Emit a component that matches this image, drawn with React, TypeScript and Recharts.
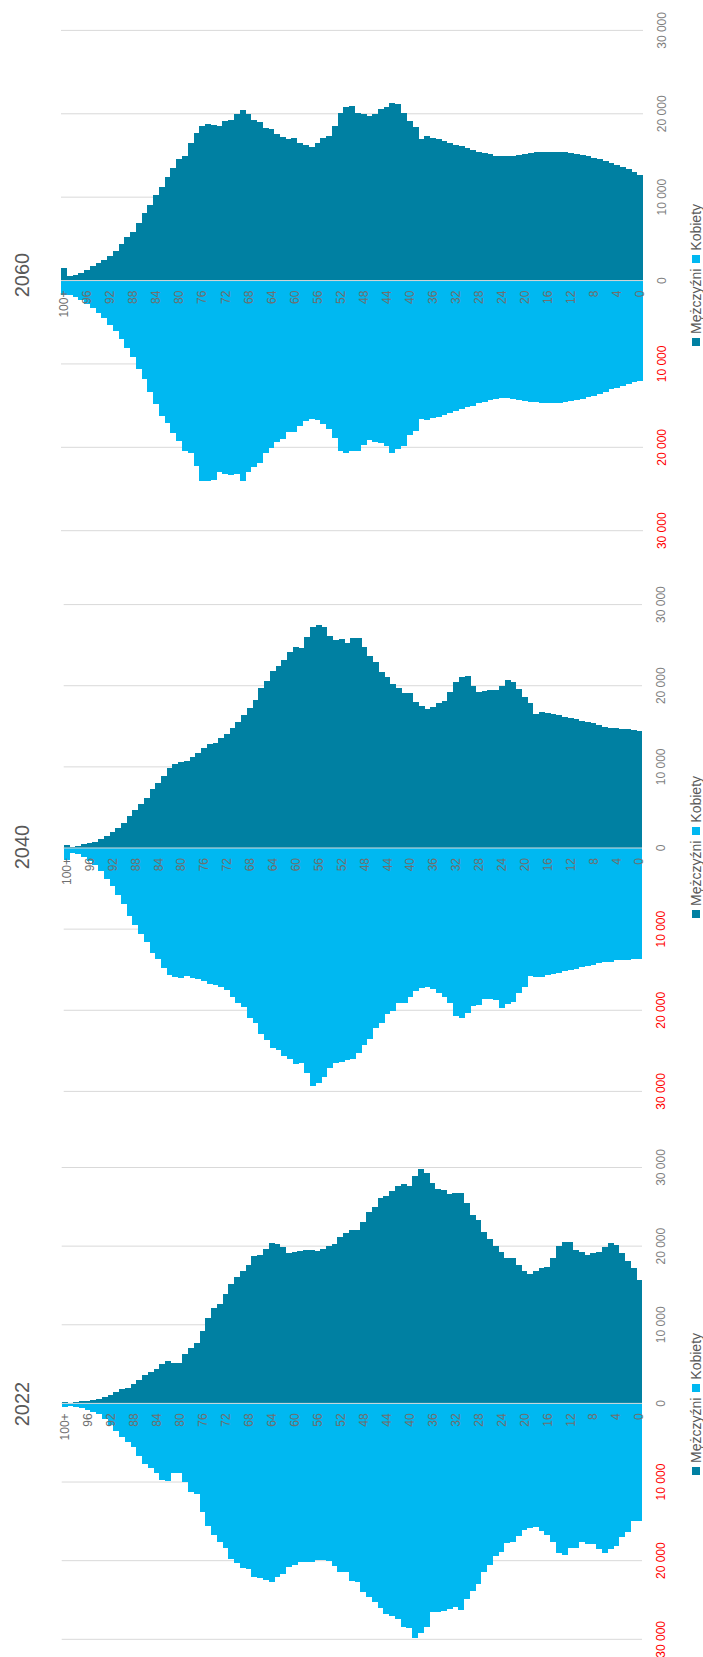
import React from 'react';
import { BarChart, Bar, XAxis, YAxis, CartesianGrid, ReferenceLine, LabelList } from 'recharts';

// Age categories, oldest first (100+ … 0)
const ages: string[] = ['100+', ...Array.from({ length: 100 }, (_, k) => String(99 - k))];

const valueTicks = [-30000, -20000, -10000, 0, 10000, 20000, 30000];

const men2060 = [1500, 600, 700, 900, 1300, 1700, 2050, 2480, 3000, 3600, 4330, 5180, 5870, 6900, 8050, 9120, 10280, 11260, 12420, 13530, 14520, 14950, 16490, 17730, 18500, 18720, 18630, 18590, 19150, 19230, 20000, 20430, 19920, 19230, 19020, 18330, 18120, 17600, 17220, 16920, 17130, 16490, 16280, 15980, 16490, 17050, 17350, 18550, 20090, 20770, 20990, 20130, 20000, 19700, 20000, 20560, 20770, 21330, 21120, 20130, 19150, 18420, 17000, 17300, 17130, 16960, 16750, 16530, 16280, 16100, 15930, 15680, 15460, 15290, 15120, 14990, 14910, 14910, 14950, 15080, 15160, 15290, 15380, 15420, 15460, 15460, 15460, 15420, 15330, 15210, 15080, 14910, 14730, 14520, 14310, 14050, 13830, 13580, 13320, 13020, 12630];
const women2060 = [1760, 1700, 2000, 2380, 2850, 3280, 3900, 4550, 5300, 6000, 6980, 8140, 9210, 10580, 11860, 13410, 14780, 16190, 17130, 18290, 19270, 20430, 20690, 22270, 23990, 23990, 23860, 23000, 23260, 23340, 23260, 23990, 23000, 22360, 21840, 20690, 20130, 19400, 18970, 18200, 18200, 17480, 16830, 16580, 16700, 17260, 17770, 18850, 20430, 20690, 20400, 20430, 19700, 19150, 19320, 19490, 19830, 20690, 20260, 19830, 18550, 17990, 16580, 16700, 16490, 16400, 16150, 15890, 15630, 15420, 15210, 14990, 14730, 14560, 14350, 14220, 14130, 14130, 14220, 14350, 14430, 14520, 14610, 14650, 14690, 14690, 14650, 14560, 14480, 14350, 14220, 14000, 13830, 13620, 13360, 13060, 12850, 12630, 12420, 12210, 11990];

const men2040 = [350, 130, 220, 440, 570, 750, 1060, 1500, 1980, 2460, 3080, 3920, 4660, 5410, 6200, 7260, 7960, 8890, 9860, 10380, 10600, 10740, 11260, 11700, 12320, 12760, 12980, 13550, 14080, 14740, 15530, 16410, 17250, 18260, 19710, 20550, 21780, 22400, 23230, 24200, 24820, 24640, 26050, 27240, 27500, 27280, 26090, 25650, 25740, 25300, 25830, 25830, 24770, 23630, 22970, 21740, 21030, 20240, 19670, 19050, 19050, 18040, 17470, 17160, 17380, 17820, 18130, 19230, 20460, 21120, 21210, 20020, 19230, 19360, 19490, 19490, 20020, 20680, 20460, 19580, 18610, 17820, 16500, 16720, 16630, 16500, 16370, 16190, 16060, 15880, 15710, 15530, 15400, 15180, 14960, 14830, 14740, 14650, 14610, 14520, 14480];
const women2040 = [1450, 570, 750, 1100, 1630, 2070, 2860, 3870, 4710, 5850, 6910, 8360, 9460, 10560, 11570, 12980, 13730, 14830, 15710, 15880, 15970, 15800, 15970, 16150, 16410, 16760, 16940, 17120, 17560, 18350, 19140, 19580, 20900, 21520, 22970, 23630, 24640, 24860, 25650, 25960, 26620, 26530, 27720, 29390, 28910, 28250, 27060, 26440, 26400, 26180, 26000, 25210, 24330, 23540, 22220, 21560, 20460, 20110, 19140, 19050, 18350, 17600, 17250, 17160, 17380, 17820, 18350, 19140, 20680, 20900, 20370, 19490, 19360, 18610, 18610, 18790, 19670, 19230, 19010, 17820, 17160, 15750, 15880, 15840, 15710, 15530, 15360, 15220, 15090, 14870, 14700, 14560, 14390, 14210, 14080, 14040, 13860, 13820, 13770, 13730, 13730];

const men2022 = [150, 100, 150, 250, 350, 450, 600, 800, 1130, 1450, 1810, 1940, 2490, 3030, 3620, 3930, 4380, 4970, 5330, 5200, 5200, 6330, 7000, 7680, 9170, 10850, 12070, 12610, 13870, 15230, 16040, 16860, 17620, 18710, 18890, 19660, 20340, 20250, 19880, 19120, 19300, 19390, 19480, 19570, 19430, 19660, 19970, 20290, 21100, 21690, 22010, 22010, 23050, 24400, 24990, 26080, 26350, 26980, 27660, 27930, 27610, 28920, 29830, 29240, 27970, 27250, 27200, 26620, 26750, 26750, 25530, 23950, 23270, 21740, 20880, 20020, 19210, 18530, 18440, 17580, 16860, 16490, 16860, 17260, 17400, 18480, 19970, 20470, 20560, 19520, 19300, 18890, 19120, 19300, 19840, 20380, 20110, 19120, 18170, 17260, 15680];
const women2022 = [450, 350, 450, 600, 800, 1040, 1360, 2030, 2710, 3480, 4290, 4880, 5560, 6640, 7680, 8230, 8810, 9720, 9810, 8900, 8810, 10030, 11300, 11520, 13870, 15590, 16770, 17620, 18440, 19790, 20340, 20920, 21100, 22140, 22230, 22460, 22730, 22140, 21690, 20790, 20560, 20110, 20200, 20110, 19930, 19970, 20020, 20650, 21380, 21470, 22600, 22730, 23950, 24630, 25310, 26080, 26800, 26980, 27430, 28380, 28610, 29830, 29240, 28470, 26570, 26570, 26350, 26120, 25890, 26300, 24860, 23860, 22960, 21470, 20560, 19430, 18890, 17760, 17620, 16860, 16130, 15820, 15730, 16180, 16720, 17620, 19070, 19300, 18390, 18390, 17670, 17850, 17940, 18530, 19070, 18570, 18080, 16950, 16310, 14910, 14910];

const MEN = '#0080A2';
const WOMEN = '#00B8F1';
const FONT = "'Liberation Sans', Arial, sans-serif";
const H = 703;

type Panel = {
  year: string;
  men: number[];
  women: number[];
  offY: number;
  W: number;
  left: number;
  right: number;
  top: number;
  xh: number;
};

const panels: Panel[] = [
  { year: '2060', men: men2060, women: women2060, offY: 0, W: 550, left: 19.3, right: 30.4, top: 61, xh: 60 },
  { year: '2040', men: men2040, women: women2040, offY: 572, W: 550, left: 30.6, right: 32.6, top: 63.7, xh: 61 },
  { year: '2022', men: men2022, women: women2022, offY: 1139, W: 530, left: 29.7, right: 28.5, top: 61.7, xh: 61 },
];

function fmt(v: number): string {
  const a = Math.abs(v);
  if (a < 1000) return String(a);
  return `${Math.floor(a / 1000)}\u00a0${String(a % 1000).padStart(3, '0')}`;
}

const ValueTick = (props: any) => {
  const { x, y, payload } = props;
  const v = payload.value as number;
  return (
    <text x={x} y={y} dy="0.35em" textAnchor="middle" fontSize={12} fontFamily={FONT} fill={v < 0 ? '#FF0000' : '#7F7F7F'}>
      {fmt(v)}
    </text>
  );
};

const makeAgeLabel = (zeroX: number) => (props: any) => {
  const { index, value } = props;
  if (index % 4 !== 0) return null;
  const vb = props.viewBox || props;
  const y = Number(vb.y) + Number(vb.height) / 2;
  return (
    <text key={`age-${index}`} x={zeroX - 10} y={y} dy="0.35em" textAnchor="end" fontSize={12} fontFamily={FONT} fill="#6F6F6F">
      {value}
    </text>
  );
};

function Pyramid({ cfg }: { cfg: Panel }) {
  const rows = ages.map((a, i) => ({ age: a, men: cfg.men[i], women: -cfg.women[i] }));
  const zeroX = cfg.left + (cfg.W - cfg.left - cfg.right) / 2;
  const ageLabel = makeAgeLabel(zeroX);
  return (
    <div
      style={{
        position: 'absolute',
        left: 0,
        top: 0,
        width: cfg.W,
        height: H,
        transformOrigin: '0 0',
        transform: `translate(0px, ${cfg.offY + cfg.W}px) rotate(-90deg)`,
      }}
    >
      <div style={{ position: 'absolute', left: 0, top: 12, width: cfg.W, textAlign: 'center', fontSize: 20, lineHeight: '20px', color: '#595959', fontFamily: FONT }}>
        {cfg.year}
      </div>
      <BarChart
        width={cfg.W}
        height={H}
        data={rows}
        layout="vertical"
        stackOffset="sign"
        barCategoryGap={0}
        barGap={0}
        margin={{ top: cfg.top, right: cfg.right, bottom: 0, left: cfg.left }}
      >
        <CartesianGrid horizontal={false} vertical={true} stroke="#D9D9D9" />
        <XAxis
          type="number"
          domain={[-30000, 30000]}
          ticks={valueTicks}
          interval={0}
          height={cfg.xh}
          axisLine={false}
          tickLine={false}
          tickSize={0}
          tickMargin={19}
          tick={<ValueTick />}
        />
        <YAxis type="category" dataKey="age" width={0} axisLine={false} tickLine={false} tick={false} />
        <Bar dataKey="men" name="Mężczyźni" stackId="p" fill={MEN} shapeRendering="crispEdges" isAnimationActive={false} />
        <Bar dataKey="women" name="Kobiety" stackId="p" fill={WOMEN} shapeRendering="crispEdges" isAnimationActive={false}>
          <LabelList dataKey="age" content={ageLabel} />
        </Bar>
        <ReferenceLine x={0} stroke="#D9D9D9" strokeWidth={1} />
      </BarChart>
      <div
        style={{
          position: 'absolute',
          left: 0,
          top: 689,
          width: cfg.W,
          display: 'flex',
          justifyContent: 'center',
          alignItems: 'center',
          fontSize: 14,
          lineHeight: '14px',
          color: '#595959',
          fontFamily: FONT,
        }}
      >
        <span style={{ display: 'inline-block', width: 8, height: 8, background: MEN, marginRight: 4 }} />
        <span style={{ marginRight: 6 }}>Mężczyźni</span>
        <span style={{ display: 'inline-block', width: 8, height: 8, background: WOMEN, marginRight: 4 }} />
        <span>Kobiety</span>
      </div>
    </div>
  );
}

export default function App() {
  return (
    <div style={{ position: 'absolute', left: 0, top: 0, width: 703, height: 1657, overflow: 'hidden', background: '#fff' }}>
      {panels.map((p) => (
        <Pyramid key={p.year} cfg={p} />
      ))}
    </div>
  );
}
